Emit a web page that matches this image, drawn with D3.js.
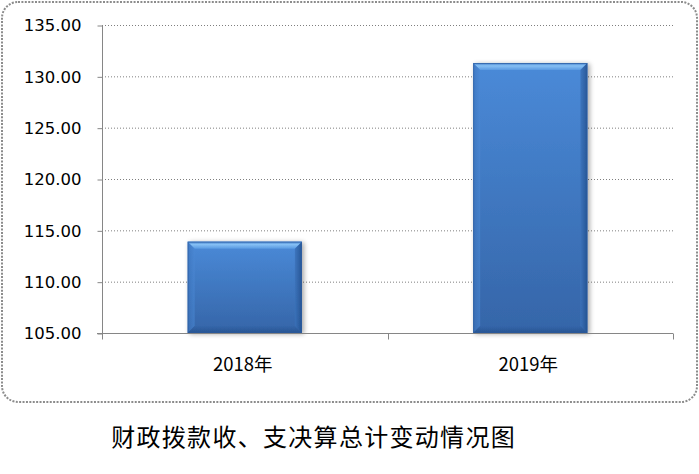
<!DOCTYPE html>
<html><head><meta charset="utf-8">
<script src="https://cdn.jsdelivr.net/npm/d3@7"></script>
<style>body{margin:0;background:#fff}svg{display:block}</style>
</head><body>
<script>
const categories = ["2018年", "2019年"];
const values = [113.9, 131.3];
const yTicks = [105, 110, 115, 120, 125, 130, 135];
const title = "财政拨款收、支决算总计变动情况图";

const W = 699, H = 474;
const svg = d3.select("body").append("svg").attr("width", W).attr("height", H);
const defs = svg.append("defs");

const g1 = defs.append("linearGradient").attr("id", "body").attr("x1", 0).attr("y1", 0).attr("x2", 0).attr("y2", 1);
g1.append("stop").attr("offset", "0%").attr("stop-color", "#4a8ad8");
g1.append("stop").attr("offset", "100%").attr("stop-color", "#3565a8");
const gt = defs.append("linearGradient").attr("id", "topbev").attr("x1", 0).attr("y1", 0).attr("x2", 0).attr("y2", 1);
gt.append("stop").attr("offset", "0%").attr("stop-color", "#3f7cc8");
gt.append("stop").attr("offset", "40%").attr("stop-color", "#86c0f4");
gt.append("stop").attr("offset", "100%").attr("stop-color", "#5a9ae2");
const gl = defs.append("linearGradient").attr("id", "leftbev").attr("x1", 0).attr("y1", 0).attr("x2", 1).attr("y2", 0);
gl.append("stop").attr("offset", "0%").attr("stop-color", "#3a70b8");
gl.append("stop").attr("offset", "100%").attr("stop-color", "#4a88d4");
const gr = defs.append("linearGradient").attr("id", "rightbev").attr("x1", 0).attr("y1", 0).attr("x2", 1).attr("y2", 0);
gr.append("stop").attr("offset", "0%").attr("stop-color", "#3b72ba");
gr.append("stop").attr("offset", "100%").attr("stop-color", "#22508e");
const gb = defs.append("linearGradient").attr("id", "botbev").attr("x1", 0).attr("y1", 0).attr("x2", 0).attr("y2", 1);
gb.append("stop").attr("offset", "0%").attr("stop-color", "#3466aa");
gb.append("stop").attr("offset", "100%").attr("stop-color", "#24508c");
const flt = defs.append("filter").attr("id", "shadow").attr("x", "-20%").attr("y", "-20%").attr("width", "140%").attr("height", "140%");
flt.append("feGaussianBlur").attr("in", "SourceAlpha").attr("stdDeviation", 2.5).attr("result", "b");
flt.append("feOffset").attr("in", "b").attr("dx", 2).attr("dy", 1).attr("result", "o");
flt.append("feComponentTransfer").attr("in", "o").attr("result", "s").append("feFuncA").attr("type", "linear").attr("slope", 0.35);
const fm = flt.append("feMerge");
fm.append("feMergeNode").attr("in", "s");
fm.append("feMergeNode").attr("in", "SourceGraphic");

// border
svg.append("rect").attr("x", 2).attr("y", 2).attr("width", 695).attr("height", 400)
  .attr("rx", 16).attr("ry", 16).attr("fill", "none").attr("stroke", "#8c8c8c")
  .attr("stroke-width", 2).attr("stroke-dasharray", "2,1.4");

const pL = 102, pR = 673, pT = 25, pB = 333;
const y = d3.scaleLinear().domain([105, 135]).range([pB, pT]);
const x = d3.scaleBand().domain(categories).range([pL, pR]).paddingInner(0.6).paddingOuter(0.3);

// gridlines
svg.append("g").selectAll("line").data(yTicks.filter(t => t !== 105)).join("line")
  .attr("x1", pL).attr("x2", pR).attr("y1", d => y(d) + 0.5).attr("y2", d => y(d) + 0.5)
  .attr("stroke", "#7f7f7f").attr("stroke-width", 1).attr("stroke-dasharray", "1,2");

// bars
const bev = 7;
const bars = svg.append("g").selectAll("g").data(values).join("g").attr("filter", "url(#shadow)");
bars.each(function(d, i) {
  const gg = d3.select(this);
  const x0 = x(categories[i]), x1 = x0 + x.bandwidth(), y0 = y(d), y1 = y(105);
  const b = bev;
  gg.append("rect").attr("x", x0).attr("y", y0).attr("width", x1 - x0).attr("height", y1 - y0).attr("fill", "url(#body)");
  gg.append("polygon").attr("points", [[x0, y0], [x1, y0], [x1 - b, y0 + b], [x0 + b, y0 + b]].join(" ")).attr("fill", "url(#topbev)");
  gg.append("polygon").attr("points", [[x0, y0], [x0 + b, y0 + b], [x0 + b, y1 - b], [x0, y1]].join(" ")).attr("fill", "url(#leftbev)").attr("opacity", 0.6);
  gg.append("polygon").attr("points", [[x1, y0], [x1, y1], [x1 - b, y1 - b], [x1 - b, y0 + b]].join(" ")).attr("fill", "url(#rightbev)").attr("opacity", 0.85);
  gg.append("polygon").attr("points", [[x0, y1], [x0 + b, y1 - b], [x1 - b, y1 - b], [x1, y1]].join(" ")).attr("fill", "url(#botbev)").attr("opacity", 0.8);
  gg.append("rect").attr("x", x0 + 0.5).attr("y", y0 + 0.5).attr("width", x1 - x0 - 1).attr("height", y1 - y0 - 1).attr("fill", "none").attr("stroke", "#2a5a9c").attr("stroke-width", 1).attr("opacity", 0.6);
});

// y axis
const yAxis = d3.axisLeft(y).tickValues(yTicks).tickSize(5).tickPadding(16).tickFormat(d3.format(".2f"));
const ya = svg.append("g").attr("transform", `translate(${pL + 0.5},0)`).call(yAxis);
ya.select(".domain").attr("stroke", "#868686").attr("d", `M0,${pT}V${pB}`);
ya.selectAll(".tick line").attr("stroke", "#868686").attr("transform", "translate(0,0.5)");
ya.selectAll(".tick text").attr("fill", "#000").style("font-family", "'DejaVu Sans', sans-serif").style("font-size", "16.5px").attr("dy", "0.36em");

// x axis
const xa = svg.append("g").attr("transform", `translate(0,${pB + 0.5})`);
xa.append("line").attr("x1", pL - 5).attr("x2", pR).attr("stroke", "#868686");
const bounds = [pL, (pL + pR) / 2, pR];
xa.selectAll("line.t").data(bounds).join("line").attr("class", "t")
  .attr("x1", d => Math.round(d) + 0.5).attr("x2", d => Math.round(d) + 0.5).attr("y1", 0).attr("y2", 6).attr("stroke", "#868686");
xa.selectAll("text").data(categories).join("text")
  .attr("x", d => x(d) + x.bandwidth() / 2 - 2).attr("y", 37)
  .attr("text-anchor", "middle").attr("fill", "#000")
  .style("font-family", "'Noto Sans CJK SC', sans-serif").style("font-size", "18.5px")
  .text(d => d);

svg.append("text").attr("x", 313.6).attr("y", 446).attr("text-anchor", "middle")
  .style("font-family", "'Noto Sans CJK SC', sans-serif").style("font-size", "24px")
  .style("letter-spacing", "1.3px").attr("fill", "#000").text(title);
</script>
</body></html>
